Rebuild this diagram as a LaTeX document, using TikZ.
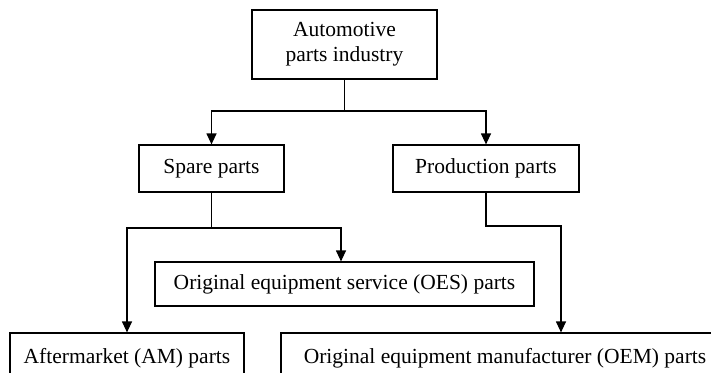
\documentclass[tikz,border=0pt]{standalone}
\usepackage{fontspec}
\setmainfont{Liberation Serif}
\usetikzlibrary{arrows.meta}
\begin{document}
\begin{tikzpicture}[x=1pt,y=-1pt,
  box/.style={draw,line width=1.2pt,inner sep=0pt,align=center,font=\fontsize{21.5}{25}\selectfont},
  arr/.style={line width=1.2pt,-{Triangle[length=11pt,width=10pt]}}]
\useasboundingbox (0,0) rectangle (711,372);
\clip (0,0) rectangle (711,372);
\node[box,minimum width=185pt,minimum height=69pt] (top) at (344.5,44.5) {Automotive\\parts industry};
\node[box,minimum width=145pt,minimum height=47pt] (spare) at (211.5,168.5) {Spare parts};
\node[box,minimum width=186pt,minimum height=47pt] (prod) at (486,168.5) {Production parts};
\node[box,minimum width=379pt,minimum height=44pt] (oes) at (344.5,284) {Original equipment service (OES) parts};
\node[box,minimum width=234pt,minimum height=50pt] (am) at (127,358) {Aftermarket (AM) parts};
\node[box,minimum width=448pt,minimum height=50pt] (oem) at (505,358) {Original equipment manufacturer (OEM) parts};
\coordinate (j1) at (344.5,111);
\coordinate (j2) at (211.5,228);
\coordinate (j3) at (486,226);
\draw[arr] (top.south) -- (j1) -| (spare.north);
\draw[arr] (top.south) -- (j1) -| (prod.north);
\draw[arr] (spare.south) -- (j2) -| ([xshift=-3.5pt]oes.north);
\draw[arr] (spare.south) -- (j2) -| (am.north);
\draw[arr] (prod.south) -- (j3) -| ([xshift=56pt]oem.north);
\end{tikzpicture}
\end{document}
